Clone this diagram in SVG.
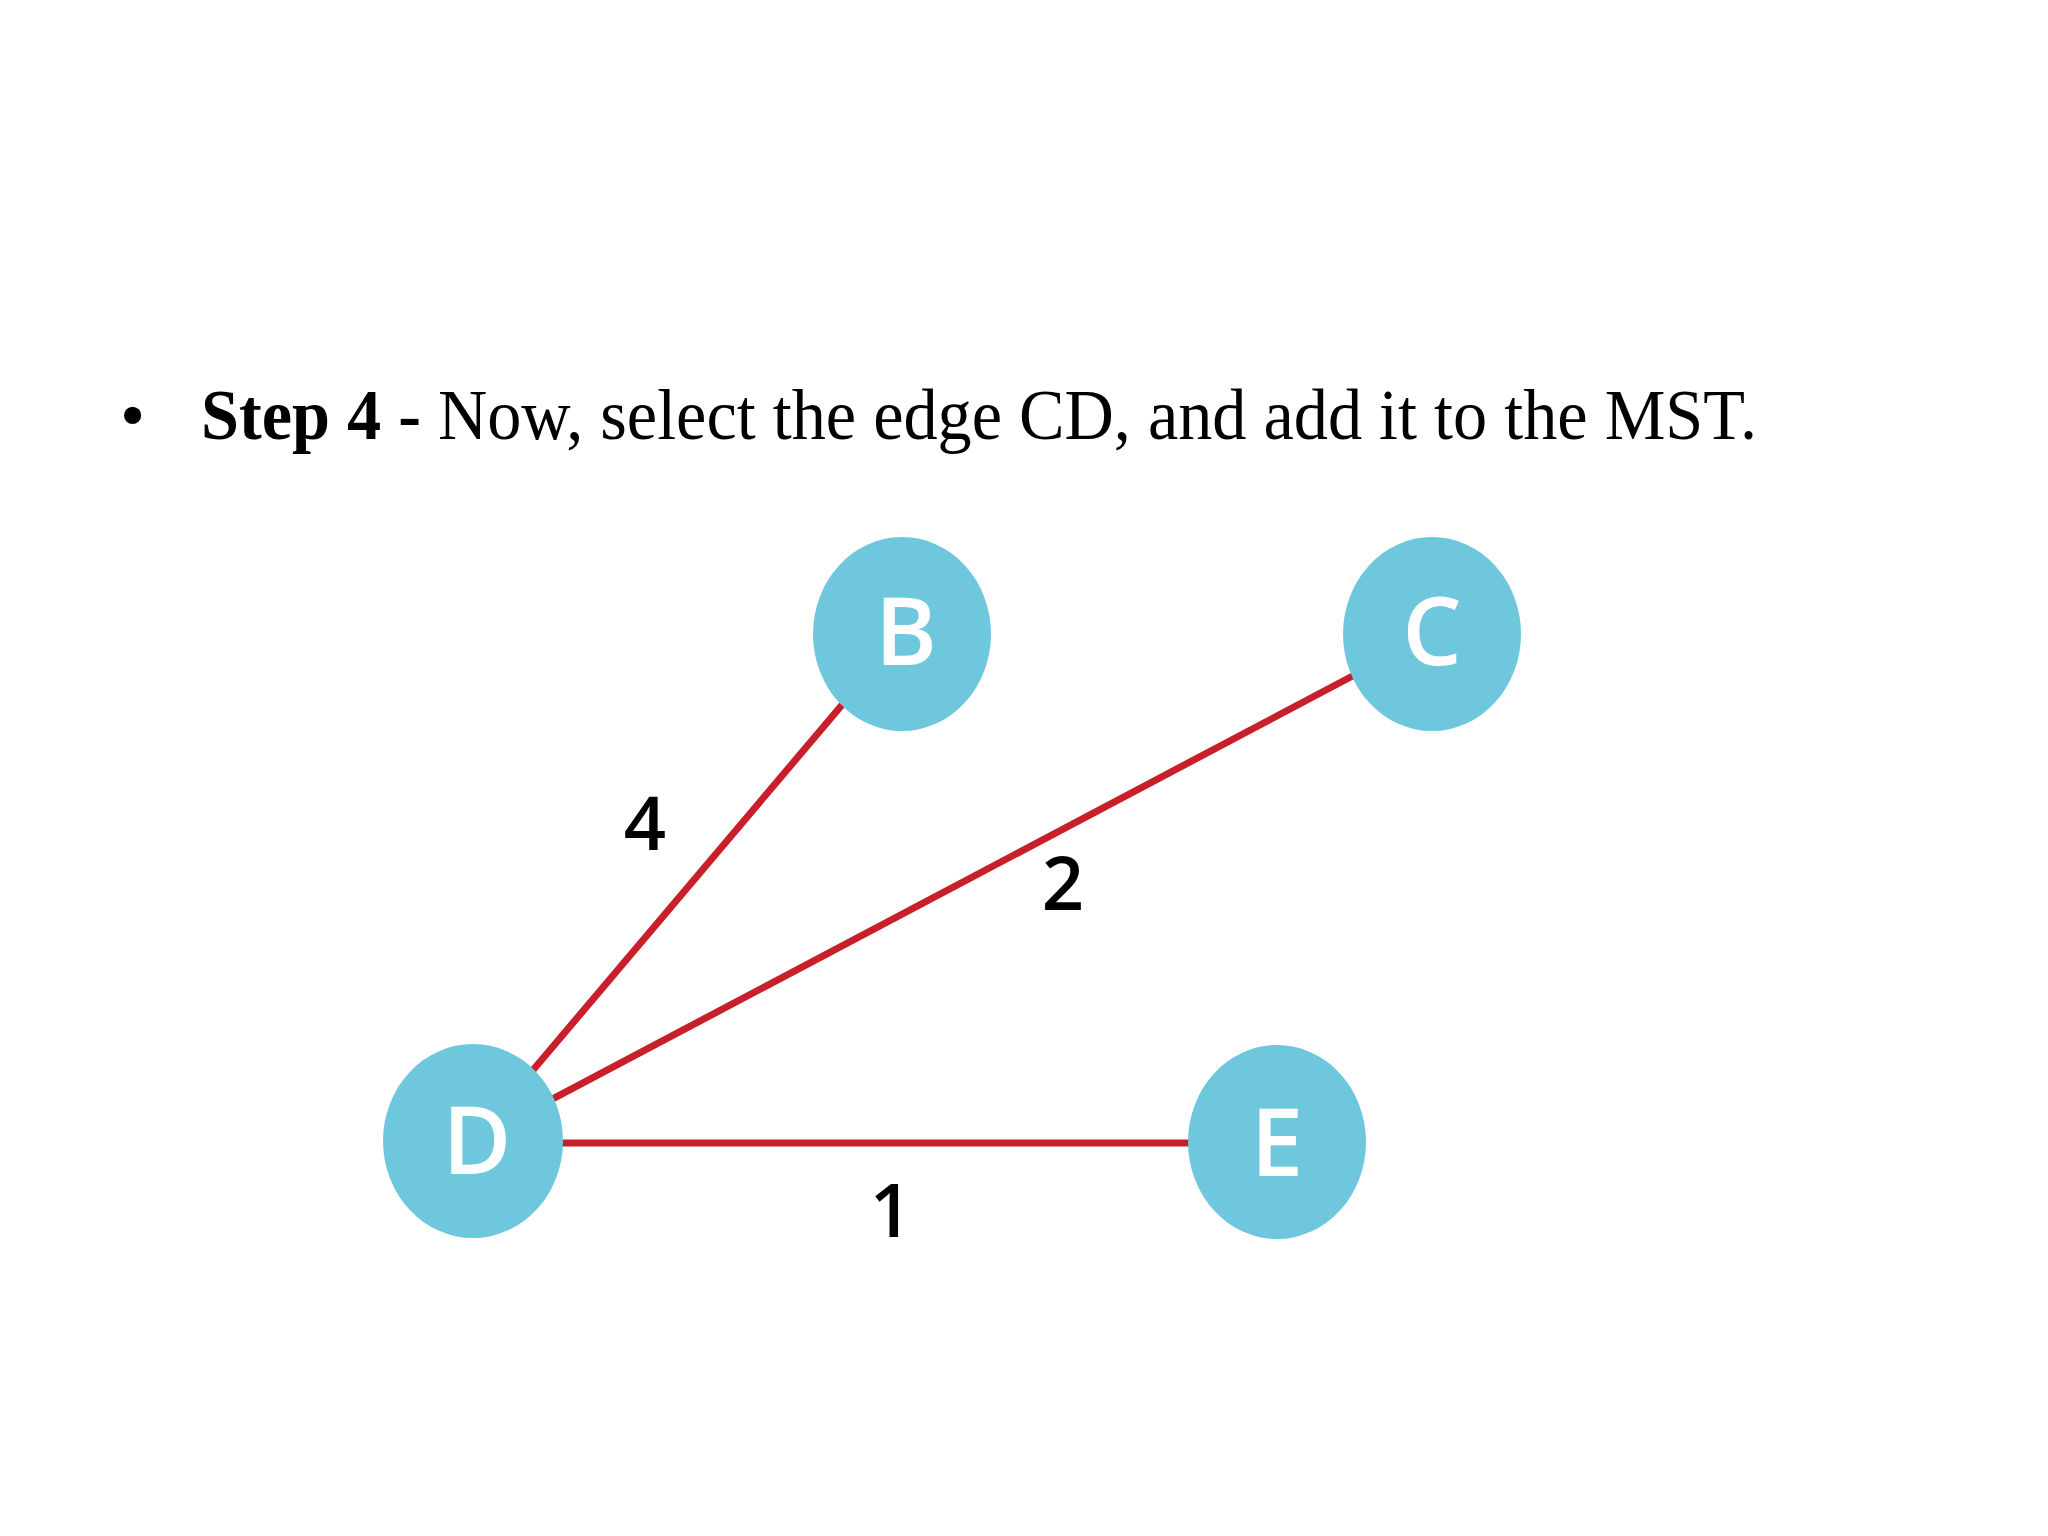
<svg xmlns="http://www.w3.org/2000/svg" width="2048" height="1536" viewBox="0 0 2048 1536">
<style>
.node{fill:#6fc7de}
.nl{font-family:"Open Sans","DejaVu Sans",sans-serif;font-size:94px;font-weight:600;fill:#ffffff;text-anchor:middle}
.el{font-family:"Open Sans","DejaVu Sans",sans-serif;font-size:74px;font-weight:600;fill:#000000;text-anchor:middle}
.edge{stroke:#c8202a;stroke-width:7;fill:none}
.title{font-family:"Liberation Serif","Times New Roman",serif;font-size:72px;fill:#000000}
</style>
<rect width="2048" height="1536" fill="#ffffff"/>
<text class="title" x="120" y="439">•</text>
<text class="title" x="201" y="439" textLength="1556" lengthAdjust="spacingAndGlyphs"><tspan font-weight="bold">Step 4 - </tspan>Now, select the edge CD, and add it to the MST.</text>
<g id="connectors">
<line class="edge" x1="473" y1="1141" x2="902" y2="634"/>
<line class="edge" x1="473" y1="1141" x2="1432" y2="634"/>
<line class="edge" x1="473" y1="1143" x2="1277" y2="1143"/>
</g>
<g id="edge-labels">
<text class="el" x="645" y="850">4</text>
<text class="el" x="1063" y="910">2</text>
<text class="el" x="891" y="1237">1</text>
</g>
<g id="node-B"><ellipse class="node" cx="902" cy="634" rx="89" ry="97"/><text class="nl" x="906" y="665">B</text></g>
<g id="node-C"><ellipse class="node" cx="1432" cy="634" rx="89" ry="97"/><text class="nl" x="1432" y="665">C</text></g>
<g id="node-D"><ellipse class="node" cx="473" cy="1141" rx="90" ry="97"/><text class="nl" x="477" y="1174">D</text></g>
<g id="node-E"><ellipse class="node" cx="1277" cy="1142" rx="89" ry="97"/><text class="nl" x="1277" y="1176">E</text></g>
</svg>
